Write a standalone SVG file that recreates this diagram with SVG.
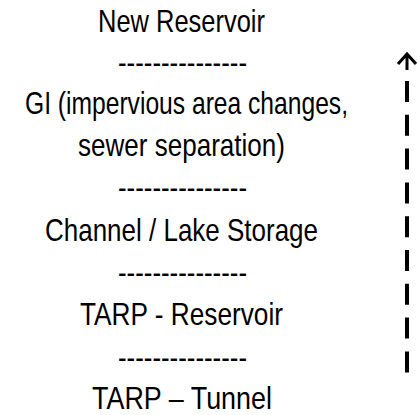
<svg xmlns="http://www.w3.org/2000/svg" width="417" height="415" viewBox="0 0 417 415">
<style>
text{font-family:"Liberation Sans Narrow","Liberation Sans",Arial,sans-serif;font-size:32px;fill:#000;text-anchor:middle}
.sep{font-size:32px}
</style>
<rect width="417" height="415" fill="#fff"/>
<g id="new-reservoir"><text x="181.5" y="32" textLength="167" lengthAdjust="spacingAndGlyphs">New Reservoir</text></g>
<g id="sep1"><text class="sep" x="182.5" y="73" textLength="129" lengthAdjust="spacingAndGlyphs">---------------</text></g>
<g id="gi"><text x="186.5" y="114" textLength="323" lengthAdjust="spacingAndGlyphs">GI (impervious area changes,</text><text x="181.5" y="156" textLength="207" lengthAdjust="spacingAndGlyphs">sewer separation)</text></g>
<g id="sep2"><text class="sep" x="182.5" y="198" textLength="129" lengthAdjust="spacingAndGlyphs">---------------</text></g>
<g id="channel"><text x="181.5" y="241" textLength="273" lengthAdjust="spacingAndGlyphs">Channel / Lake Storage</text></g>
<g id="sep3"><text class="sep" x="182.5" y="283" textLength="129" lengthAdjust="spacingAndGlyphs">---------------</text></g>
<g id="tarp-reservoir"><text x="181.5" y="325" textLength="203" lengthAdjust="spacingAndGlyphs">TARP - Reservoir</text></g>
<g id="sep4"><text class="sep" x="182.5" y="368" textLength="129" lengthAdjust="spacingAndGlyphs">---------------</text></g>
<g id="tarp-tunnel"><text x="182" y="409" textLength="180" lengthAdjust="spacingAndGlyphs">TARP – Tunnel</text></g>
<g id="connectors" fill="none" stroke="#000">
<line x1="407" y1="81" x2="407" y2="374" stroke-width="4" stroke-dasharray="21 12.8"/>
<path d="M407,70 V54 M398,64 L407,54 L416,64" stroke-width="3"/>
</g>
</svg>
